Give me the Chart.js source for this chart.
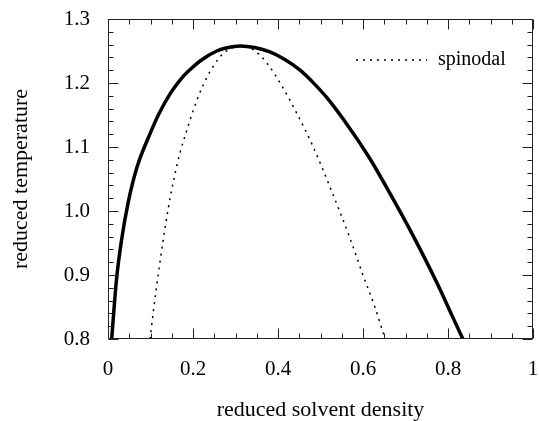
<!DOCTYPE html>
<html><head><meta charset="utf-8">
<script src="https://cdn.jsdelivr.net/npm/chart.js@4/dist/chart.umd.min.js"></script>
<style>html,body{margin:0;padding:0;background:#fff}</style>
</head><body>
<canvas id="c" width="539" height="421"></canvas>
<script>
// ---- data ----
const binodalX = [0.0087,0.0125,0.02,0.032,0.048,0.068,0.099,0.12,0.146,0.17,0.19,0.22,0.256,0.28,0.311,0.345,0.381,0.415,0.452,0.485,0.515,0.569,0.616,0.668,0.719,0.773,0.812,0.835];
const binodalY = [0.80,0.833,0.893,0.955,1.015,1.068,1.121,1.152,1.183,1.205,1.219,1.236,1.25,1.255,1.258,1.2555,1.2485,1.237,1.220,1.199,1.177,1.129,1.082,1.022,0.960,0.889,0.833,0.80];
const spinodalX = [0.099,0.108,0.118,0.13,0.142,0.155,0.169,0.185,0.201,0.224,0.26,0.279,0.311,0.342,0.373,0.412,0.444,0.483,0.522,0.569,0.601,0.628,0.652];
const spinodalY = [0.80,0.85,0.90,0.955,1.005,1.05,1.09,1.125,1.158,1.197,1.238,1.25,1.258,1.252,1.232,1.192,1.153,1.10,1.038,0.958,0.898,0.85,0.80];
const xTickLabels = ['0','0.2','0.4','0.6','0.8','1'];
const yTickLabels = ['0.8','0.9','1.0','1.1','1.2','1.3'];
const xTitle = 'reduced solvent density';
const yTitle = 'reduced temperature';
const legendLabel = 'spinodal';

const toPts = (xs, ys) => xs.map((x, i) => ({x, y: ys[i]}));
const serif = "'Liberation Serif', 'Times New Roman', serif";
Chart.defaults.font.family = serif;
Chart.defaults.color = '#000';

const frameTicks = {
  id: 'frameTicks',
  afterDatasetsDraw(chart) {
    const {ctx, chartArea: a, scales: {x, y}} = chart;
    ctx.save();
    ctx.strokeStyle = '#222';
    ctx.lineWidth = 1;
    const L = Math.round(a.left) + 0.5, R = Math.round(a.right) - 0.5;
    const T = Math.round(a.top) + 0.5, B = Math.round(a.bottom) - 0.5;
    ctx.strokeRect(L, T, R - L, B - T);
    ctx.beginPath();
    for (let i = 0; i <= 20; i++) {
      const px = Math.round(x.getPixelForValue(i / 20)) + 0.5;
      const len = i % 4 === 0 ? 10 : 5;
      ctx.moveTo(px, B); ctx.lineTo(px, B - len);
      ctx.moveTo(px, T); ctx.lineTo(px, T + len);
    }
    for (let i = 0; i <= 25; i++) {
      const py = Math.round(y.getPixelForValue(0.8 + i * 0.02)) + 0.5;
      const len = i % 5 === 0 ? 10 : 5;
      ctx.moveTo(L, py); ctx.lineTo(L + len, py);
      ctx.moveTo(R, py); ctx.lineTo(R - len, py);
    }
    ctx.stroke();
    // legend
    const ly = a.top + 41;
    ctx.beginPath();
    ctx.setLineDash([2, 5]);
    ctx.lineWidth = 1.5;
    ctx.strokeStyle = '#000';
    ctx.moveTo(a.right - 177, ly); ctx.lineTo(a.right - 106, ly);
    ctx.stroke();
    ctx.setLineDash([]);
    ctx.fillStyle = '#000';
    ctx.font = '20px ' + serif;
    ctx.textBaseline = 'middle';
    ctx.textAlign = 'left';
    ctx.fillText(legendLabel, a.right - 95, ly);
    ctx.restore();
  }
};

new Chart(document.getElementById('c'), {
  type: 'scatter',
  data: {
    datasets: [
      {label: 'binodal', data: toPts(binodalX, binodalY), showLine: true, borderColor: '#000',
       borderWidth: 3.5, pointRadius: 0, cubicInterpolationMode: 'monotone', fill: false},
      {label: legendLabel, data: toPts(spinodalX, spinodalY), showLine: true, borderColor: '#000',
       borderWidth: 1.5, borderDash: [2, 5], pointRadius: 0, cubicInterpolationMode: 'monotone', fill: false}
    ]
  },
  options: {
    responsive: false,
    animation: false,
    devicePixelRatio: 1,
    layout: {padding: {top: 19, right: 6, bottom: 0, left: 0}},
    plugins: {legend: {display: false}, tooltip: {enabled: false}},
    scales: {
      x: {
        type: 'linear', min: 0, max: 1,
        grid: {display: false, drawTicks: false},
        border: {display: false},
        ticks: {stepSize: 0.2, padding: 18, font: {size: 21}, maxRotation: 0,
                callback: (v, i) => xTickLabels[i]},
        title: {display: true, text: xTitle, font: {size: 22, lineHeight: 1}, padding: {top: 0, bottom: 0}},
        afterFit: s => { s.height = 82; s.paddingLeft = 0; s.paddingRight = 0; }
      },
      y: {
        type: 'linear', min: 0.8, max: 1.3,
        grid: {display: false, drawTicks: false},
        border: {display: false},
        ticks: {stepSize: 0.1, padding: 18, font: {size: 21},
                callback: (v, i) => yTickLabels[i]},
        title: {display: true, text: yTitle, font: {size: 22, lineHeight: 1}, padding: {top: 10, bottom: 0}},
        afterFit: s => { s.width = 108; s.paddingTop = 0; s.paddingBottom = 0; }
      }
    }
  },
  plugins: [frameTicks]
});
</script>
</body></html>
